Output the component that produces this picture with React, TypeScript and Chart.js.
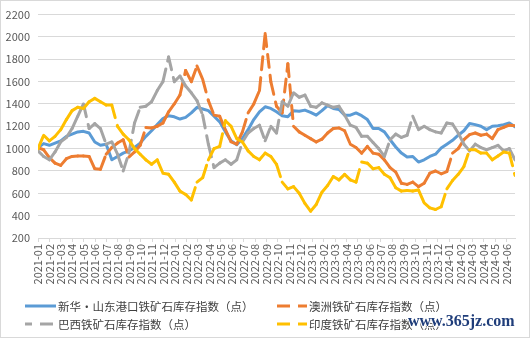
import React, { useEffect, useRef } from 'react';
import { Chart, registerables } from 'chart.js';

Chart.register(...registerables);

// Monthly tick labels
const MONTHS = [
  '2021-01', '2021-02', '2021-03', '2021-04', '2021-05', '2021-06',
  '2021-07', '2021-08', '2021-09', '2021-10', '2021-11', '2021-12',
  '2022-01', '2022-02', '2022-03', '2022-04', '2022-05', '2022-06',
  '2022-07', '2022-08', '2022-09', '2022-10', '2022-11', '2022-12',
  '2023-01', '2023-02', '2023-03', '2023-04', '2023-05', '2023-06',
  '2023-07', '2023-08', '2023-09', '2023-10', '2023-11', '2023-12',
  '2024-01', '2024-02', '2024-03', '2024-04', '2024-05', '2024-06',
];

// Axis span in months (2021-01 start to late 2024-06)
const SPAN_MONTHS = 41.75;

const Y_TICKS = { min: 200, max: 2200, step: 200 };

// Semi-monthly samples
const xinhuaShandong = [
  1010, 1045, 1030, 1050, 1070, 1110, 1130, 1150, 1155, 1140,
  1060, 1030, 1040, 900, 930, 960, 980, 1010, 1050, 1110,
  1160, 1215, 1270, 1295, 1285, 1265, 1280, 1320, 1370, 1355,
  1340, 1290, 1240, 1150, 1070, 1035, 1090, 1170, 1260, 1330,
  1375, 1360, 1330, 1295, 1285, 1340, 1335, 1345, 1325, 1300,
  1340, 1385, 1360, 1350, 1300, 1300, 1320, 1295, 1260, 1180,
  1180, 1150, 1080, 1015, 960, 925, 930, 880, 900, 930,
  950, 1005, 1040, 1075, 1120, 1160, 1225, 1215, 1200, 1170,
  1200, 1205, 1215, 1230, 1195,
];

const australia = [
  1010, 990, 920, 870, 850, 910, 930, 935, 935, 930,
  820, 815, 950, 1010, 1050, 1080, 925, 970, 1030, 1190,
  1185, 1200, 1230, 1330, 1400, 1480, 1700, 1600, 1740, 1620,
  1430, 1300, 1290, 1170, 1060, 1040, 1150, 1320, 1400, 1520,
  2030, 1600, 1380, 1320, 1760, 1200, 1150, 1120, 1090, 1060,
  1085, 1140, 1180, 1185, 1160, 1040, 1010, 960, 1020, 960,
  950, 900, 830, 790, 690, 680, 700, 660, 690, 780,
  800, 775, 795, 960, 1000, 1080, 1125, 1140, 1120, 1130,
  1090, 1170, 1190, 1210, 1205,
];

const brazil = [
  980, 930, 900, 970, 1060, 1100, 1180, 1290, 1400, 1180,
  1225, 1180, 1040, 1060, 950, 800, 960, 1230, 1370, 1380,
  1420, 1520, 1600, 1820, 1600, 1650, 1560, 1500, 1430, 1300,
  1040, 830, 870, 900, 860, 900, 1060, 1140, 1180, 1210,
  1070, 1200, 1140, 1420, 1380, 1500, 1460, 1480, 1380, 1370,
  1410, 1390, 1370, 1380, 1300, 1210, 1190, 1110, 1110, 1055,
  1000, 930, 1080, 1130, 1100, 1120, 1290, 1170, 1200, 1170,
  1150, 1140, 1230, 1220, 1140, 1040, 980, 1040, 1010, 990,
  1010, 1030, 980, 1000, 900,
];

const india = [
  1000, 1120, 1070, 1110, 1170, 1260, 1340, 1370, 1360, 1420,
  1450, 1420, 1390, 1390, 1200, 1130, 1080, 1000, 950, 900,
  860, 900, 780, 770, 700, 620, 590, 540, 700, 740,
  900, 1000, 1020, 1250, 1200, 1090, 1060, 980, 930, 900,
  960, 930, 860, 700, 640, 660, 600, 510, 440, 500,
  610, 670, 750, 720, 770, 720, 700, 880, 870, 820,
  830, 770, 740, 650, 620, 625, 620, 630, 515, 470,
  455, 480, 640, 715, 770, 840, 990, 990, 960, 960,
  900, 935, 970, 960, 760,
];

const SERIES_NAMES = [
  '新华・山东港口铁矿石库存指数（点）',
  '澳洲铁矿石库存指数（点）',
  '巴西铁矿石库存指数（点）',
  '印度铁矿石库存指数（点）',
];
const COLORS = ['#5B9BD5', '#ED7D31', '#A5A5A5', '#FFC000'];

const FONT = '"Noto Sans CJK SC", "Noto Sans", sans-serif';
const DASH = [13, 8];

export default function App() {
  const canvasRef = useRef<HTMLCanvasElement | null>(null);

  useEffect(() => {
    if (!canvasRef.current) return;
    Chart.defaults.font.family = FONT;
    const step = SPAN_MONTHS / (xinhuaShandong.length - 1);
    const toPoints = (vals: number[]) => vals.map((v, i) => ({ x: i * step, y: v }));
    const period = DASH[0] + DASH[1];
    const dashed = (idx: number, data: number[], order: number) => ({
      label: SERIES_NAMES[idx],
      data: toPoints(data),
      borderColor: COLORS[idx],
      backgroundColor: COLORS[idx],
      borderWidth: 3,
      borderDash: DASH,
      borderCapStyle: 'round' as const,
      borderJoinStyle: 'round' as const,
      pointRadius: 0,
      tension: 0,
      order,
      segment: {
        borderDashOffset: (ctx: any) => (ctx.p0DataIndex % 2) * period,
      },
    });

    const chart = new Chart(canvasRef.current, {
      type: 'line',
      data: {
        datasets: [
          {
            label: SERIES_NAMES[0],
            data: toPoints(xinhuaShandong),
            borderColor: COLORS[0],
            backgroundColor: COLORS[0],
            borderWidth: 3,
            borderJoinStyle: 'round',
            borderCapStyle: 'round',
            pointRadius: 0,
            tension: 0,
            order: 4,
          },
          dashed(1, australia, 3),
          dashed(2, brazil, 2),
          dashed(3, india, 1),
        ] as any,
      },
      options: {
        responsive: false,
        animation: false,
        events: [],
        layout: { padding: { left: 0, right: 16, top: 12, bottom: 0 } },
        plugins: {
          legend: { display: false },
          tooltip: { enabled: false },
        },
        scales: {
          x: {
            type: 'linear',
            min: 0,
            max: SPAN_MONTHS,
            afterFit: (s: any) => {
              s.height = 62;
            },
            grid: {
              drawOnChartArea: false,
              drawTicks: true,
              tickLength: 4,
              color: '#d9d9d9',
            },
            border: { display: true, color: '#d9d9d9' },
            ticks: {
              stepSize: 1,
              includeBounds: false,
              autoSkip: false,
              minRotation: 90,
              maxRotation: 90,
              padding: 2,
              color: '#595959',
              font: { size: 11, family: FONT },
              callback: (v: any) => MONTHS[Math.round(Number(v))] ?? '',
            },
          },
          y: {
            min: Y_TICKS.min,
            max: Y_TICKS.max,
            afterFit: (s: any) => {
              s.width = 38;
            },
            grid: { color: '#d9d9d9', drawTicks: false },
            border: { display: false },
            ticks: {
              stepSize: Y_TICKS.step,
              padding: 8,
              color: '#595959',
              font: { size: 11, family: FONT },
              callback: (v: any) => String(v),
            },
          },
        },
      } as any,
    });
    return () => chart.destroy();
  }, []);

  const legendItem = (idx: number, left: number, top: number, lineW: number, dashed: boolean, offset = 0) => (
    <div key={idx} style={{ position: 'absolute', left, top, height: 18, display: 'flex', alignItems: 'center' }}>
      <svg width={lineW} height={6} style={{ display: 'block', marginRight: 2 }}>
        <line
          x1={0}
          y1={3}
          x2={lineW}
          y2={3}
          stroke={COLORS[idx]}
          strokeWidth={3}
          strokeDasharray={dashed ? '13 8' : undefined}
          strokeDashoffset={offset}
        />
      </svg>
      <span style={{ fontFamily: FONT, fontSize: 11.5, color: '#404040', lineHeight: '18px', whiteSpace: 'nowrap' }}>
        {SERIES_NAMES[idx]}
      </span>
    </div>
  );

  return (
    <div style={{ position: 'fixed', left: 0, top: 0, width: 531, height: 338, background: '#fff', overflow: 'hidden' }}>
      <div
        style={{
          position: 'absolute',
          left: 0,
          top: 0,
          width: 530,
          height: 338,
          border: '1px solid #d9d9d9',
          boxSizing: 'border-box',
        }}
      />
      <canvas
        ref={canvasRef}
        width={531}
        height={300}
        style={{ position: 'absolute', left: 0, top: 0, width: 531, height: 300 }}
      />
      {legendItem(0, 25, 297, 31, false)}
      {legendItem(1, 277, 297, 30, true)}
      {legendItem(2, 25, 315, 31, true, 6)}
      {legendItem(3, 277, 315, 30, true)}
      <div
        style={{
          position: 'absolute',
          left: 408,
          top: 313,
          fontFamily: '"Liberation Serif", "DejaVu Serif", serif',
          fontWeight: 'bold',
          fontSize: 16,
          lineHeight: '16px',
          color: '#1f3d7a',
          textShadow: '1px 0 #fff, -1px 0 #fff, 0 1px #fff, 0 -1px #fff',
          whiteSpace: 'nowrap',
        }}
      >
        www.365jz.com
      </div>
    </div>
  );
}
